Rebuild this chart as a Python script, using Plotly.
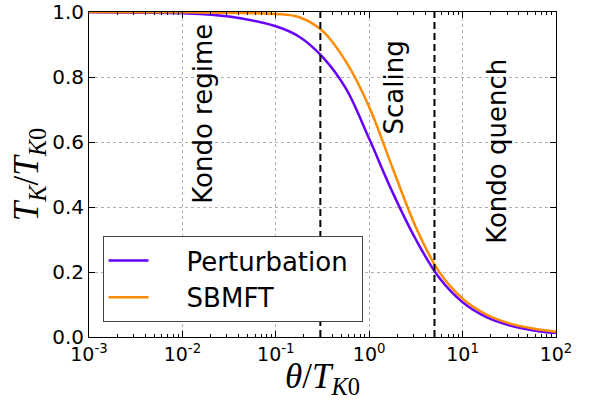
import math
import plotly.graph_objects as go

# ---- data ----
theta = [0.001, 0.00316, 0.01, 0.0316, 0.1, 0.178, 0.316, 0.562, 1.0,
         1.78, 3.16, 5.62, 10.0, 17.8, 31.6, 56.2, 100.0]
perturbation = [0.9995, 0.998, 0.996, 0.986, 0.956, 0.924, 0.862, 0.765, 0.61,
                0.445, 0.30, 0.182, 0.107, 0.062, 0.036, 0.021, 0.012]
sbmft = [1.0, 0.9995, 0.999, 0.997, 0.994, 0.984, 0.942, 0.848, 0.708,
         0.52, 0.338, 0.20, 0.118, 0.07, 0.042, 0.026, 0.016]
regime_bounds = [0.3, 5.0]
regime_labels = ["Kondo regime", "Scaling", "Kondo quench"]
regime_label_x = [0.0165, 1.83, 23.4]
regime_label_y = [0.686, 0.767, 0.570]
x_tickvals = [1e-3, 1e-2, 1e-1, 1e0, 1e1, 1e2]
x_ticktext = ["10<sup>-3</sup>", "10<sup>-2</sup>", "10<sup>-1</sup>",
              "10<sup>0</sup>", "10<sup>1</sup>", "10<sup>2</sup>"]
y_tickvals = [0.0, 0.2, 0.4, 0.6, 0.8, 1.0]
y_ticktext = ["0.0", "0.2", "0.4", "0.6", "0.8", "1.0"]

PURPLE = "#6600FF"
ORANGE = "#FF8C00"
SANS = "DejaVu Sans"
SERIF = "Liberation Serif"
PAD = "\u00a0" * 4

fig = go.Figure()
fig.add_trace(go.Scatter(x=theta, y=perturbation, mode="lines",
                         name=PAD + "Perturbation" + "\u00a0",
                         line=dict(color=PURPLE, width=2.5, shape="spline")))
fig.add_trace(go.Scatter(x=theta, y=sbmft, mode="lines", name=PAD + "SBMFT",
                         line=dict(color=ORANGE, width=2.5, shape="spline")))
for xb in regime_bounds:
    fig.add_trace(go.Scatter(x=[xb, xb], y=[0, 1], mode="lines", showlegend=False,
                             line=dict(color="black", width=2, dash="7px,4px"),
                             hoverinfo="skip"))

for txt, xv, yv in zip(regime_labels, regime_label_x, regime_label_y):
    fig.add_annotation(x=math.log10(xv), y=yv, xref="x", yref="y", text=txt,
                       showarrow=False, textangle=-90,
                       font=dict(family=SANS, size=26, color="black"))

minor_vals = [m * 10 ** k for k in range(-3, 2) for m in range(2, 10)]

axis_common = dict(showline=True, linecolor="black", linewidth=1, mirror="ticks",
                   ticks="inside", tickcolor="black", ticklen=6, tickwidth=1,
                   showgrid=True, gridcolor="#b0b0b0", griddash="dot", gridwidth=1,
                   zeroline=False, ticklabeloverflow="allow")

fig.update_xaxes(type="log", range=[-3, 2], tickmode="array", tickvals=x_tickvals,
                 ticktext=x_ticktext, tickfont=dict(family=SANS, size=19, color="black"),
                 minor=dict(tickmode="array", tickvals=minor_vals, ticks="inside",
                            ticklen=3, tickcolor="black", showgrid=False),
                 title=dict(text="<i>θ</i>/<i>T</i><sub><i>K</i>0</sub>",
                            font=dict(family=SERIF, size=35, color="black"), standoff=0),
                 **axis_common)
fig.update_yaxes(range=[0, 1], tickmode="array", tickvals=y_tickvals, ticktext=y_ticktext,
                 tickfont=dict(family=SANS, size=20, color="black"),
                 title=dict(text="<i>T</i><sub><i>K</i></sub>/<i>T</i><sub><i>K</i>0</sub>",
                            font=dict(family=SERIF, size=35, color="black"), standoff=2),
                 **axis_common)

fig.update_layout(
    width=600, height=400,
    margin=dict(l=89, r=44, t=12, b=63, autoexpand=False),
    paper_bgcolor="white", plot_bgcolor="white",
    showlegend=True,
    legend=dict(x=0.029, y=0.046, xanchor="left", yanchor="bottom",
                bgcolor="white", bordercolor="#444444", borderwidth=1,
                font=dict(family=SANS, size=26, color="black"),
                itemwidth=40, tracegroupgap=0),
)

# remove the browser's default 8px body margin so the figure sits at the page origin
fig.write_html("out.html", config={"displayModeBar": False},
               post_script="document.body.style.margin='0';")
